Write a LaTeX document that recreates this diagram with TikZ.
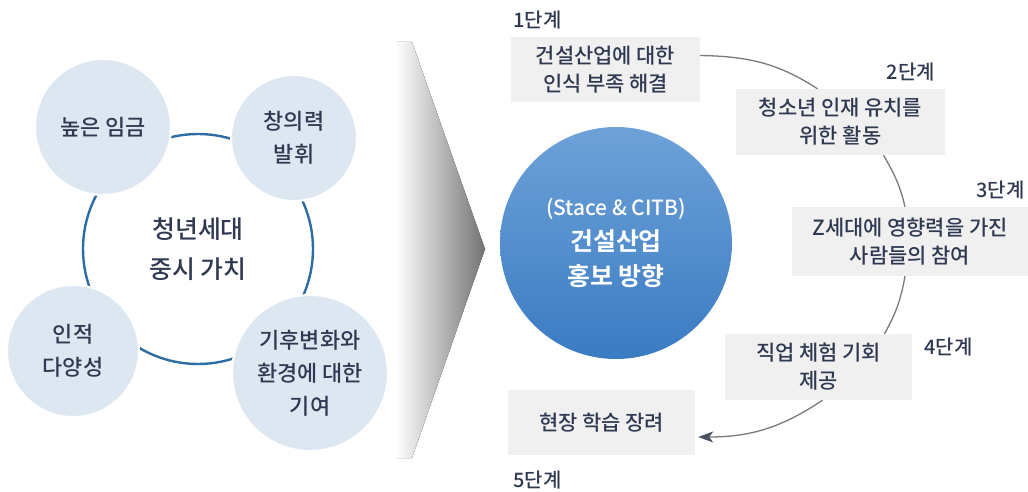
\documentclass[tikz,border=0pt]{standalone}
\usepackage{fontspec}
\setmainfont{Noto Sans CJK KR}[UprightFont=* Medium,BoldFont=* Bold]
\usepackage{tikz}
\usetikzlibrary{shapes,arrows.meta}

\definecolor{ink}{HTML}{2F3A52}
\definecolor{ringblue}{HTML}{2E6DA4}
\definecolor{bubblefill}{HTML}{DDE7F2}
\definecolor{hubtop}{HTML}{6EA2D8}
\definecolor{hubbottom}{HTML}{3A7BC2}
\definecolor{boxgray}{HTML}{F0F0F0}
\definecolor{linegray}{HTML}{7A7A7A}
\definecolor{tipgray}{HTML}{4A5262}

\begin{document}
\begin{tikzpicture}[x=1bp,y=-1bp,
  every node/.style={text=ink},
  ring/.style={circle,draw=ringblue,line width=2.4bp,minimum size=230bp,inner sep=0pt,
    align=center,font=\fontsize{25}{40}\selectfont},
  bubble/.style={circle,fill=bubblefill,draw=white,line width=2bp,inner sep=0pt,
    align=center,font=\fontsize{22}{33}\selectfont},
  hub/.style={circle,minimum size=232bp,inner sep=0pt,top color=hubtop,bottom color=hubbottom,
    text=white,align=center,font=\fontsize{25}{35}\selectfont},
  stepbox/.style={fill=boxgray,inner sep=0pt,align=center,font=\fontsize{21}{28}\selectfont},
  steplabel/.style={font=\fontsize{20}{24}\selectfont},
  flow/.style={draw=linegray,line width=1.3bp}]
  \useasboundingbox (0,0) rectangle (1028,492);

  % Values of the young generation
  \node[ring] (values) at (198,249) {청년세대\\중시 가치};
  \node[bubble,minimum size=136bp] (wage) at (103,127) {높은 임금};
  \node[bubble,minimum size=126bp] (creative) at (294,138) {창의력\\발휘};
  \node[bubble,minimum size=132bp] (diverse) at (73,351) {인적\\다양성};
  \node[bubble,minimum size=156bp] (climate) at (310,373) {기후변화와\\환경에 대한\\기여};

  % Chevron
  \fill[left color=white,middle color=black!4,right color=black!55]
    (396,42) -- (412,42) -- (485,249) -- (412,458) -- (396,458) -- cycle;

  % Promotion direction
  \node[hub] (hub) at (616,243) {{\fontsize{21}{35}\selectfont (Stace \& CITB)}\\
    \textbf{건설산업}\\\textbf{홍보 방향}};

  % Steps
  \node[stepbox,minimum width=189bp,minimum height=65bp] (b1) at (605.5,69.5) {건설산업에 대한\\인식 부족 해결};
  \node[stepbox,minimum width=209bp,minimum height=66bp] (b2) at (840.5,122) {청소년 인재 유치를\\위한 활동};
  \node[stepbox,minimum width=236bp,minimum height=69bp] (b3) at (910,241.5) {Z세대에 영향력을 가진\\사람들의 참여};
  \node[stepbox,minimum width=187bp,minimum height=66bp] (b4) at (818.5,367) {직업 체험 기회\\제공};
  \node[stepbox,minimum width=187bp,minimum height=65bp] (b5) at (601.5,422.5) {현장 학습 장려};

  \node[steplabel,anchor=west] (s1) at (510,20) {1단계};
  \node[steplabel] (s2) at (911,72) {2단계};
  \node[steplabel,anchor=east] (s3) at (1028,190) {3단계};
  \node[steplabel,anchor=west] (s4) at (921,347) {4단계};
  \node[steplabel,anchor=west] (s5) at (510,480) {5단계};

  % Loop between steps
  \draw[flow] ([yshift=14bp]b1.east) to[out=-1,in=147] ([xshift=-23bp]b2.north);
  \draw[flow] ([xshift=43bp]b2.south) to[out=-60,in=103] ([xshift=-5bp]b3.north);
  \draw[flow] ([xshift=-5bp]b3.south) to[out=-100,in=61] ([xshift=66bp]b4.north);
  \draw[flow,-{Stealth[length=15bp,width=11bp,inset=4bp,color=tipgray]}] ([xshift=4bp]b4.south)
    to[out=214,in=0] ([xshift=3bp,yshift=-14.5bp]b5.east);
\end{tikzpicture}
\end{document}
